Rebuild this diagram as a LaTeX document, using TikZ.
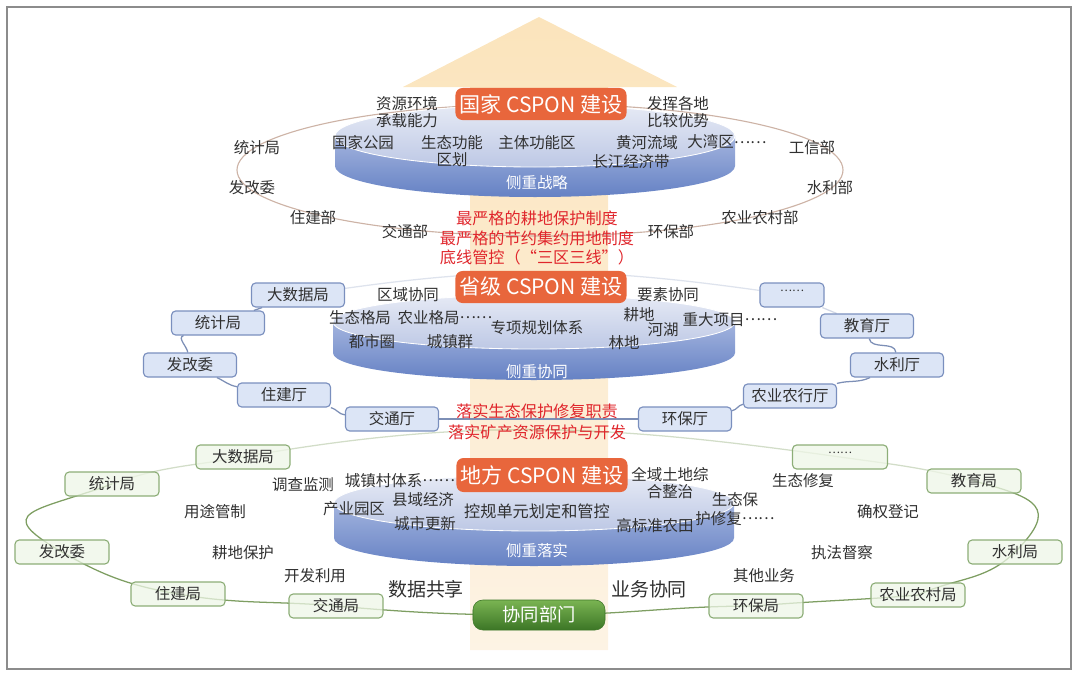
\documentclass[tikz,border=0pt]{standalone}
\usepackage{fontspec}
\setmainfont{Noto Sans CJK SC}
\usetikzlibrary{positioning}
\definecolor{CspOrange}{HTML}{E8663C}
\definecolor{CspRed}{HTML}{E0262C}
\definecolor{CspInk}{HTML}{303030}
\definecolor{ArrowTop}{HTML}{FBE4BC}
\definecolor{ArrowBot}{HTML}{FDF3E4}
\definecolor{DiskTopA}{HTML}{E6EAF5}
\definecolor{DiskTopB}{HTML}{BDC8E5}
\definecolor{DiskSideA}{HTML}{A3B4DE}
\definecolor{DiskSideB}{HTML}{6581C4}
\definecolor{RingTan}{HTML}{CDB3A6}
\definecolor{BoxBlue}{HTML}{DCE5F6}
\definecolor{BoxBlueLine}{HTML}{7A8FBE}
\definecolor{LinkBlue}{HTML}{7D8FB6}
\definecolor{BoxGreen}{HTML}{EEF6E7}
\definecolor{BoxGreenLine}{HTML}{8DAE78}
\definecolor{LinkGreen}{HTML}{7E9E62}
\definecolor{DeptTop}{HTML}{7AB452}
\definecolor{DeptBot}{HTML}{3C7626}
\definecolor{FrameGray}{HTML}{8C8C8C}

\pgfdeclarelayer{arrowlayer}
\pgfdeclarelayer{linklayer}
\pgfdeclarelayer{disklayer}
\pgfsetlayers{arrowlayer,linklayer,disklayer,main}

% centred ellipsis as in the Chinese original
\newcommand{\zdots}{\raisebox{0.32em}[0pt][0pt]{……}}

% disk: centre x, top centre y, x radius, y radius, thickness
\newcommand{\cspdisk}[5]{%
  \shade[top color=DiskSideA, bottom color=DiskSideB]
    (#1-#3,#2) -- (#1-#3,#2-#5)
    arc[start angle=180, end angle=360, x radius=#3, y radius=#4]
    -- (#1+#3,#2) -- cycle;
  \path[top color=DiskTopA, bottom color=DiskTopB, draw=white, line width=0.6pt]
    (#1,#2) ellipse[x radius=#3, y radius=#4];
}

\begin{document}
\begin{tikzpicture}[x=0.025cm, y=0.025cm,
    lbl/.style={font=\fontsize{11}{12}\selectfont, text=CspInk, align=center, inner sep=0pt},
    sidelbl/.style={font=\fontsize{11}{12}\selectfont, text=white, inner sep=0pt},
    redlbl/.style={font=\fontsize{11.5}{14}\selectfont, text=CspRed, align=center, inner sep=0pt},
    biglbl/.style={font=\fontsize{13.5}{15}\selectfont, text=CspInk, inner sep=0pt},
    ttl/.style={fill=CspOrange, text=white, rounded corners=5pt,
      minimum width=4.275cm, minimum height=0.8cm, inner sep=0pt,
      font=\fontsize{15}{17}\selectfont},
    bluebox/.style={draw=BoxBlueLine, fill=BoxBlue, line width=0.8pt, rounded corners=3pt,
      minimum width=2.325cm, minimum height=0.6cm, inner sep=0pt,
      font=\fontsize{11}{12}\selectfont, text=CspInk},
    greenbox/.style={draw=BoxGreenLine, fill=BoxGreen, fill opacity=0.75, text opacity=1,
      line width=0.8pt, rounded corners=3pt,
      minimum width=2.35cm, minimum height=0.6cm, inner sep=0pt,
      font=\fontsize{11}{12}\selectfont, text=CspInk},
    deptbox/.style={top color=DeptTop, bottom color=DeptBot, draw=DeptBot, rounded corners=7pt,
      minimum width=3.3cm, minimum height=0.75cm, inner sep=0pt,
      text=white, font=\fontsize{13}{15}\selectfont},
    bluelink/.style={draw=LinkBlue, line width=0.9pt},
    greenlink/.style={draw=LinkGreen, line width=0.9pt},
    ringline/.style={draw=RingTan, line width=0.8pt}]

    \useasboundingbox (0,0) rectangle (1080,-678);
    \draw[FrameGray, line width=1.1pt] (7,-7) rectangle (1071,-669);

    % big upward arrow behind everything
    \begin{pgfonlayer}{arrowlayer}
      \shade[top color=ArrowTop, bottom color=ArrowBot]
        (470,-650) -- (470,-87) -- (403,-87) -- (539,-17) -- (677,-87)
        -- (608,-87) -- (608,-650) -- cycle;
    \end{pgfonlayer}

    % the three disks
    \begin{pgfonlayer}{disklayer}
      \cspdisk{535}{-136}{200}{31}{30}
      \cspdisk{534}{-322}{201}{27}{31}
      \cspdisk{534}{-503}{200}{28}{35}
    \end{pgfonlayer}

    % ---- national level ----
    \begin{pgfonlayer}{linklayer}
      \draw[ringline] (540,-170) ellipse[x radius=303, y radius=66];
    \end{pgfonlayer}
    \node[ttl] (gj) at (541,-104) {国家 CSPON 建设};
    \node[lbl] (zyhj) at (407,-112) {资源环境\\承载能力};
    \node[lbl] (fhgd) at (678,-112) {发挥各地\\比较优势};
    \node[lbl] (gjgy) at (363,-143) {国家公园};
    \node[lbl] (stgn) at (452,-151) {生态功能\\区划};
    \node[lbl] (ztgn) at (537,-143) {主体功能区};
    \node[lbl] (hhly) at (647,-143) {黄河流域};
    \node[lbl] (dwq) at (727,-142) {大湾区\zdots};
    \node[lbl] (cjjj) at (631,-162) {长江经济带};
    \node[sidelbl] (czzl) at (537,-183) {侧重战略};
    \node[lbl] (tjj1) at (257,-148) {统计局};
    \node[lbl] (fgw1) at (252,-188) {发改委};
    \node[lbl] (zjb1) at (313,-218) {住建部};
    \node[lbl] (jtb1) at (405,-232) {交通部};
    \node[lbl] (hbb1) at (671,-232) {环保部};
    \node[lbl] (nyb1) at (760,-218) {农业农村部};
    \node[lbl] (slb1) at (830,-188) {水利部};
    \node[lbl] (gxb1) at (812,-148) {工信部};
    \node[redlbl] (hong1) at (537,-238) {最严格的耕地保护制度\\最严格的节约集约用地制度\\底线管控（“三区三线”）};

    % ---- provincial level ----
    \node[ttl] (sj) at (541,-287) {省级 CSPON 建设};
    \node[lbl] (qyxt) at (408,-295) {区域协同};
    \node[lbl] (ysxt) at (668,-295) {要素协同};
    \node[lbl] (stgj) at (360,-318) {生态格局};
    \node[lbl] (nygj) at (445,-318) {农业格局\zdots};
    \node[lbl] (zxgh) at (537,-328) {专项规划体系};
    \node[lbl] (gd) at (639,-315) {耕地};
    \node[lbl] (hh) at (663,-330) {河湖};
    \node[lbl] (ld) at (624,-343) {林地};
    \node[lbl] (zdxm) at (730,-320) {重大项目\zdots};
    \node[lbl] (dsq) at (372,-342) {都市圈};
    \node[lbl] (czq) at (450,-342) {城镇群};
    \node[sidelbl] (czxt) at (537,-372) {侧重协同};
    \node[redlbl, font=\fontsize{11.5}{15}\selectfont] (hong2) at (537,-422) {落实生态保护修复职责\\落实矿产资源保护与开发};

    \node[bluebox] (dsj2) at (298,-295) {大数据局};
    \node[bluebox] (tjj2) at (218,-323) {统计局};
    \node[bluebox] (fgw2) at (190,-365) {发改委};
    \node[bluebox] (zjt2) at (284,-395) {住建厅};
    \node[bluebox] (jtt2) at (392,-419) {交通厅};
    \node[bluebox] (hbt2) at (685,-419) {环保厅};
    \node[bluebox] (nyt2) at (790,-396) {农业农行厅};
    \node[bluebox] (slt2) at (897,-365) {水利厅};
    \node[bluebox] (jyt2) at (867,-326) {教育厅};
    \node[bluebox, minimum width=1.6cm, font=\fontsize{8}{9}\selectfont] (etc2) at (792,-295) {\zdots};

    \begin{pgfonlayer}{linklayer}
      \draw[bluelink] (dsj2) -- (tjj2);
      \draw[bluelink] (tjj2) to[out=200, in=100] (fgw2);
      \draw[bluelink] (fgw2) to[out=-25, in=170] (zjt2);
      \draw[bluelink] (zjt2) to[out=-15, in=175] (jtt2);
      \draw[bluelink] (jtt2) -- (hbt2);
      \draw[bluelink] (hbt2) to[out=10, in=-170] (nyt2);
      \draw[bluelink] (nyt2) to[out=15, in=-155] (slt2);
      \draw[bluelink] (slt2) to[out=95, in=-80] (jyt2);
      \draw[bluelink, opacity=0.35] (jyt2) -- (etc2);
      \draw[bluelink, opacity=0.25] (etc2) to[out=172, in=8] (dsj2);
    \end{pgfonlayer}

    % ---- local level ----
    \node[ttl, minimum height=0.85cm] (df) at (542,-475) {地方 CSPON 建设};
    \node[lbl] (czc) at (400,-481) {城镇村体系\zdots};
    \node[lbl] (xyjj) at (423,-500) {县域经济};
    \node[lbl] (cyyq) at (354,-509) {产业园区};
    \node[lbl] (csgx) at (425,-524) {城市更新};
    \node[lbl, font=\fontsize{11.5}{12}\selectfont] (kgdy) at (537,-511) {控规单元划定和管控};
    \node[lbl] (qytd) at (670,-483) {全域土地综\\合整治};
    \node[lbl, font=\fontsize{11}{13}\selectfont] (stbh) at (735,-509) {生态保\\护修复\zdots};
    \node[lbl] (gbz) at (655,-526) {高标准农田};
    \node[sidelbl] (czls) at (537,-551) {侧重落实};

    \node[lbl] (dcjc) at (303,-485) {调查监测};
    \node[lbl] (ytgz) at (215,-512) {用途管制};
    \node[lbl] (gdbh) at (243,-553) {耕地保护};
    \node[lbl] (kfly) at (315,-576) {开发利用};
    \node[biglbl] (sjgx) at (426,-589) {数据共享};
    \node[lbl] (stxf) at (803,-481) {生态修复};
    \node[lbl] (qqdj) at (888,-512) {确权登记};
    \node[lbl] (zfdc) at (842,-553) {执法督察};
    \node[lbl] (qtyw) at (764,-576) {其他业务};
    \node[biglbl] (ywxt) at (649,-589) {业务协同};

    \node[greenbox] (dsj3) at (243,-457) {大数据局};
    \node[greenbox] (tjj3) at (112,-484) {统计局};
    \node[greenbox] (fgw3) at (62,-552) {发改委};
    \node[greenbox] (zjj3) at (178,-594) {住建局};
    \node[greenbox] (jtj3) at (336,-606) {交通局};
    \node[greenbox] (hbj3) at (756,-606) {环保局};
    \node[greenbox] (nyj3) at (918,-595) {农业农村局};
    \node[greenbox] (slj3) at (1015,-552) {水利局};
    \node[greenbox] (jyj3) at (974,-481) {教育局};
    \node[greenbox, minimum width=2.375cm, font=\fontsize{8}{9}\selectfont] (etc3) at (840,-457) {\zdots};
    \node[deptbox] (xtbm) at (539,-615) {协同部门};

    \begin{pgfonlayer}{linklayer}
      \draw[greenlink] (xtbm.center) to[out=180, in=-5] (jtj3.center)
        to[out=175, in=-10] (zjj3.center) to[out=170, in=-30] (fgw3.center)
        to[out=150, in=-160, looseness=2.5] (tjj3.center);
      \draw[greenlink, opacity=0.35] (tjj3.center) to[out=20, in=190] (dsj3.center)
        to[out=10, in=172] (etc3.center) to[out=-8, in=165] (jyj3.center);
      \draw[greenlink] (jyj3.center) to[out=-15, in=45, looseness=2] (slj3.center)
        to[out=225, in=25] (nyj3.center) to[out=185, in=5] (hbj3.center)
        to[out=180, in=0] (xtbm.center);
    \end{pgfonlayer}
  \end{tikzpicture}
\end{document}
